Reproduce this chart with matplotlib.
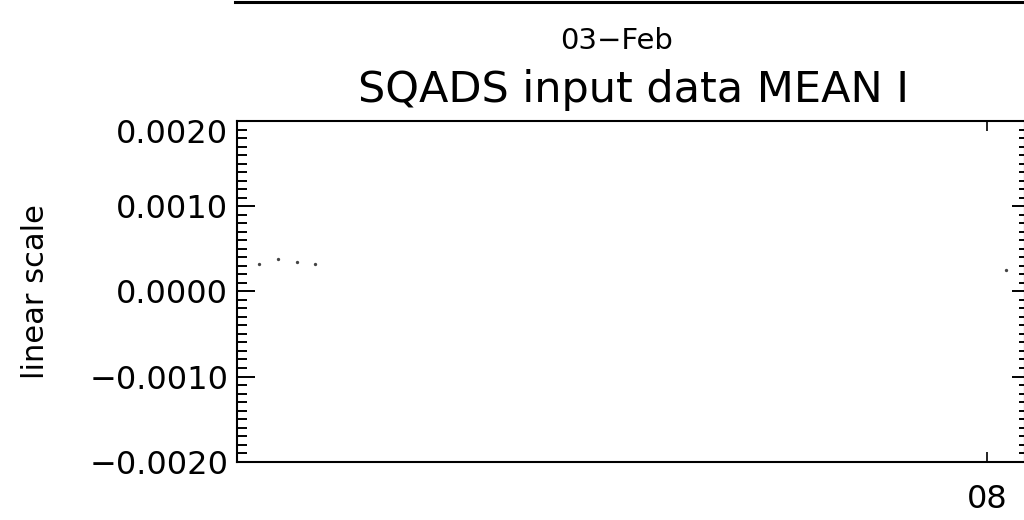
import numpy as np
import pandas as pd
import matplotlib
matplotlib.use("Agg")
import matplotlib.pyplot as plt
import matplotlib.dates as mdates
import matplotlib.transforms as mtransforms
from matplotlib.lines import Line2D
from matplotlib.ticker import FixedLocator, MultipleLocator, FuncFormatter

# ---- data ----
times = pd.to_datetime(["2000-02-03 03:30", "2000-02-03 06:30", "2000-02-03 09:30",
                        "2000-02-03 12:30", "2000-02-08 03:00"])
mean_i = [0.000317, 0.000379, 0.000344, 0.000317, 0.000250]
x_start = pd.Timestamp("2000-02-03 00:00")
x_end = pd.Timestamp("2000-02-08 06:00")
x_tick_dates = [pd.Timestamp("2000-02-08 00:00")]
y_ticks = [-0.0020, -0.0010, 0.0000, 0.0010, 0.0020]
date_label = "03\u2212Feb"
title = "SQADS input data MEAN I"
ylabel = "linear scale"

plt.rcParams['font.family'] = ['DejaVu Sans']
W, H = 1024, 520
fig = plt.figure(figsize=(W / 100, H / 100), dpi=100)

left_px, right_px, top_px, bot_px = 237.3, 1025.0, 121.0, 461.7
ax = fig.add_axes([left_px / W, 1 - bot_px / H, (right_px - left_px) / W, (bot_px - top_px) / H])

ax.plot(mdates.date2num(times), mean_i, linestyle='none', marker='o',
        markersize=2.4, color='#444444', markeredgewidth=0)

ax.set_xlim(mdates.date2num(x_start), mdates.date2num(x_end))
ax.set_ylim(y_ticks[0], y_ticks[-1])

for s in ax.spines.values():
    s.set_linewidth(1.5)
    s.set_color('black')

ax.xaxis.set_major_locator(FixedLocator(mdates.date2num(x_tick_dates)))
ax.xaxis.set_major_formatter(FuncFormatter(lambda v, p: mdates.num2date(v).strftime('%d')))
ax.yaxis.set_major_locator(FixedLocator(y_ticks))
ax.yaxis.set_minor_locator(MultipleLocator(0.0001))
ax.yaxis.set_major_formatter(FuncFormatter(lambda v, p: ('\u2212' if v < -1e-12 else '') + f"{abs(v):.4f}"))

ax.tick_params(axis='x', which='major', direction='in', length=7.2, width=1.2,
               top=True, bottom=True, labelsize=23, pad=16)
ax.tick_params(axis='y', which='major', direction='in', length=13, width=1.4,
               left=True, right=False, labelsize=23, pad=6.5)
ax.tick_params(axis='y', which='minor', direction='in', length=7.2, width=1.4,
               left=True, right=False)

# right-side ticks (shorter)
ax2 = ax.twinx()
ax2.set_ylim(ax.get_ylim())
ax2.yaxis.set_major_locator(FixedLocator(y_ticks))
ax2.yaxis.set_minor_locator(MultipleLocator(0.0001))
ax2.tick_params(axis='y', which='major', direction='in', length=9.4, width=1.4, labelright=False)
ax2.tick_params(axis='y', which='minor', direction='in', length=4.3, width=1.4)
for s in ax2.spines.values():
    s.set_visible(False)

# top label shifted down like the original
fig.canvas.draw()
ylabels = ax.yaxis.get_majorticklabels()
top_lbl = ylabels[-1]
top_lbl.set_transform(top_lbl.get_transform() + mtransforms.ScaledTranslation(0, -10 / 100, fig.dpi_scale_trans))

ax.set_ylabel(ylabel, fontsize=22)
ax.yaxis.set_label_coords(-(left_px - 50) / (right_px - left_px), 0.5)

fig.text(617 / W, 1 - 41 / H, date_label, ha='center', va='center', fontsize=21)
fig.text(633 / W, 1 - 90 / H, title, ha='center', va='center', fontsize=31)

# bottom axis of the panel above
fig.add_artist(Line2D([235 / W, 1.0], [1 - 1.5 / H, 1 - 1.5 / H], color='black', linewidth=2.2,
                      transform=fig.transFigure))

fig.savefig("out.png", dpi=100)
